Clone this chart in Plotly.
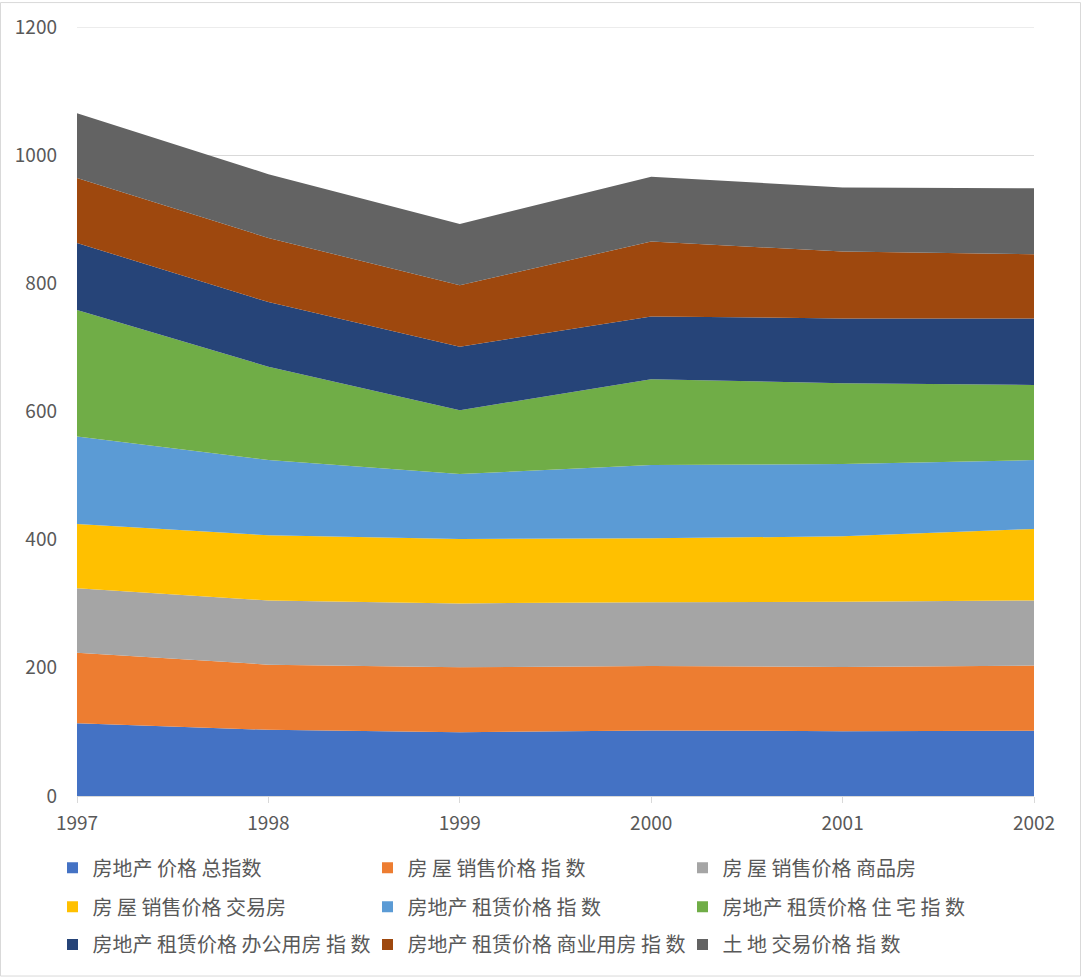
import plotly.graph_objects as go

years = [1997, 1998, 1999, 2000, 2001, 2002]

names = [
    "房地产 价格 总指数",
    "房 屋 销售价格 指 数",
    "房 屋 销售价格 商品房",
    "房 屋 销售价格 交易房",
    "房地产 租赁价格 指 数",
    "房地产 租赁价格 住 宅 指 数",
    "房地产 租赁价格 办公用房 指 数",
    "房地产 租赁价格 商业用房 指 数",
    "土 地 交易价格 指 数",
]

total_index = [113.7, 103.2, 99.6, 102.3, 101.2, 101.7]
sales_index = [110.0, 101.8, 101.2, 100.6, 100.1, 101.8]
sales_commodity = [100.6, 100.2, 99.7, 99.6, 101.8, 101.7]
sales_trade = [100.3, 101.6, 100.7, 99.6, 102.2, 111.6]
rent_index = [136.4, 117.4, 101.2, 114.3, 112.7, 107.4]
rent_residential = [197.2, 145.7, 99.6, 133.9, 126.1, 117.2]
rent_office = [104.8, 100.8, 99.1, 98.1, 101.2, 103.9]
rent_commercial = [101.2, 100.1, 96.0, 116.8, 104.3, 100.1]
land_index = [101.2, 99.6, 95.5, 101.2, 100.1, 102.8]

series = [total_index, sales_index, sales_commodity, sales_trade, rent_index,
          rent_residential, rent_office, rent_commercial, land_index]

colors = ["#4472C4", "#ED7D31", "#A5A5A5", "#FFC000", "#5B9BD5",
          "#70AD47", "#264478", "#9E480E", "#636363"]

y_ticks = [0, 200, 400, 600, 800, 1000, 1200]
y_max = 1200

font_family = "Noto Sans CJK SC, Open Sans, sans-serif"
text_color = "#595959"
grid_color = "#D9D9D9"

W, H = 1081, 977
L, R, T, B = 77, 47, 25, 181
pw = W - L - R
ph = H - T - B

fig = go.Figure()
# stacked areas (legend drawn with square-marker proxies below)
for name, vals, col in zip(names, series, colors):
    fig.add_trace(go.Scatter(
        x=years, y=vals, name=name, mode="none",
        stackgroup="one", fillcolor=col, showlegend=False,
        legendgroup=name,
    ))

legend_ids = ["legend", "legend2", "legend3"]
for i, (name, col) in enumerate(zip(names, colors)):
    fig.add_trace(go.Scatter(
        x=[None], y=[None], name=name, mode="markers",
        marker=dict(symbol="square", size=11, color=col),
        legend=legend_ids[i // 3], legendgroup=name, showlegend=True,
    ))

row_centers_px = [868, 907, 945]
legend_common = dict(
    orientation="h",
    x=(52.5 - L) / pw, xanchor="left",
    yanchor="middle",
    entrywidth=270, entrywidthmode="pixels",
    font=dict(size=20, color=text_color, family=font_family),
    traceorder="normal",
    itemwidth=30,
    bgcolor="rgba(0,0,0,0)",
)
legends = {}
for lid, yc in zip(legend_ids, row_centers_px):
    d = dict(legend_common)
    d["y"] = -(yc - (T + ph)) / ph
    legends[lid] = d

fig.update_layout(
    width=W, height=H,
    margin=dict(l=L, r=R, t=T, b=B),
    paper_bgcolor="white", plot_bgcolor="white",
    font=dict(family=font_family, color=text_color, size=19),
    showlegend=True,
    xaxis=dict(
        range=[years[0], years[-1]],
        tickvals=years,
        ticktext=[str(y) for y in years],
        showgrid=False,
        zeroline=False,
        showline=True, linecolor=grid_color, linewidth=1,
        ticks="outside", ticklen=6, tickcolor=grid_color,
        ticklabelstandoff=4,
        tickfont=dict(size=19, color=text_color),
    ),
    yaxis=dict(
        range=[0, y_max],
        tickvals=y_ticks,
        showgrid=True, gridcolor=grid_color, gridwidth=1,
        zeroline=False, showline=False,
        ticks="", ticklabelstandoff=19,
        tickfont=dict(size=19, color=text_color),
    ),
    shapes=[
        dict(
            type="rect", xref="paper", yref="paper",
            x0=(0.5 - L) / pw, x1=(W - 0.5 - L) / pw,
            y0=-(H - 0.5 - T - ph) / ph, y1=(ph + T - 0.5) / ph,
            line=dict(color=grid_color, width=1), fillcolor="rgba(0,0,0,0)",
            layer="below",
        ),
        # top gridline (Plotly omits the gridline at the range edge)
        dict(
            type="line", xref="paper", yref="y",
            x0=0, x1=1, y0=y_max, y1=y_max,
            line=dict(color=grid_color, width=1),
            layer="below",
        ),
    ],
    **legends,
)

fig.write_html("out.html", config={"displayModeBar": False},
               post_script="document.body.style.margin='0';")
